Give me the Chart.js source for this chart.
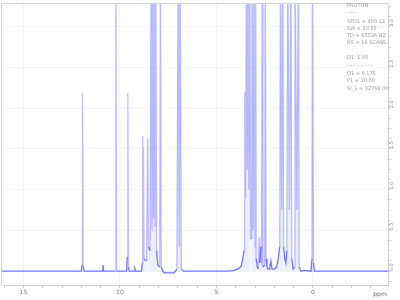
<!DOCTYPE html>
<html>
<head>
<meta charset="utf-8">
<script src="https://cdn.jsdelivr.net/npm/chart.js@4.4.1/dist/chart.umd.min.js"></script>
<style>
    html, body { margin: 0; padding: 0; background: #fff; }
    #box { width: 400px; height: 300px; }
</style>
</head>
<body>
<div id="box"><canvas id="spectre" width="400" height="300"></canvas></div>
<script>
// spectre : déplacement chimique (ppm) et intensité
const shiftPpm = [
    16.1, 12.00, 11.96, 11.94, 11.90, 11.86, 10.92, 10.88, 10.84, 10.25, 10.21, 10.17,
    9.66, 9.62, 9.59, 9.56, 9.52, 9.25, 9.22, 9.18, 8.88, 8.84, 8.82, 8.80, 8.78, 8.75,
    8.62, 8.56, 8.52, 8.44, 8.38, 8.34, 8.30, 8.26, 8.22, 8.18, 8.14, 8.10, 8.04, 7.94,
    7.90, 7.86, 7.78, 7.70, 7.20, 7.05, 6.98, 6.93, 6.88, 6.82, 6.70,
    4.40, 4.10, 3.85, 3.72, 3.64, 3.57, 3.53, 3.49, 3.44, 3.40, 3.36, 3.32, 3.27, 3.23,
    3.17, 3.15, 3.10, 3.05, 3.00, 2.97, 2.94, 2.88, 2.83, 2.79, 2.75, 2.70, 2.66, 2.63,
    2.59, 2.50, 2.47, 2.43, 2.38, 2.33, 2.25, 2.18, 2.12, 2.00, 1.88, 1.80, 1.72, 1.68,
    1.62, 1.56, 1.52, 1.46, 1.40, 1.35, 1.31, 1.22, 1.14, 1.10, 1.02, 0.96, 0.93, 0.83,
    0.75, 0.71, 0.62, 0.45, 0.10, 0.05, 0.02, -0.03, -0.08, -3.9
];
const intensite = [
    0, 0, 0.15, 4.37, 0.12, 0, 0, 0.15, 0, 0, 8, 0,
    0, 0.35, 4.37, 0.1, 0, 0, 0.06, 0, 0, 0.2, 3.32, 0.5, 3.05, 0.3,
    0.25, 3.27, 0.6, 0.5, 8, 1.0, 8, 1.3, 8, 1.1, 8, 0.5, 0.15, 0.1,
    8, 0.1, 0, -0.04, -0.04, 0.05, 8, 0.6, 8, 0.05, 0,
    0, 0.02, 0.06, 0.12, 0.3, 0.5, 4.4, 1.8, 8, 2.5, 8, 2.0, 8, 0.8,
    0.8, 8, 1.0, 8, 0.6, 8, 0.3, 0.1, 0.05, 0.83, 0.2, 0.6, 0.15, 8,
    0.1, 0.15, 8, 0.3, 0.1, 0.05, 0.05, 0.25, 0.05, 0.05, 0.1, 0.3, 0.6, 8,
    1.5, 8, 0.6, 0.3, 0.2, 0.5, 8, 1.5, 8, 0.3, 0.05, 0.1, 8, 1.5,
    8, 0.1, 0, 0.02, 0, 0.3, 8, 0.2, 0, 0
];

// axes
const xMajorTicks = [15, 10, 5, 0];
const yMajorTicks = [0, 1, 2, 3, 4, 5, 6];
const yTickLabels = ["0.0", "0.5", "1.0", "1.5", "2.0", "2.5", "3.0"];

// paramètres d'acquisition (encadré en haut à droite)
const parametres = [
    "PROTON", "------", "SFO1 = 400.13", "SW = 20.55", "TD = 65536 HZ", "NS = 16 SCANS",
    "", "D1  1.00", "--------------", "O1 = 6.175", "P1 = 10.00", "SI_1 = 32768.00"
];

const points = shiftPpm.map(function(x, i) {
    return { x: x, y: intensite[i] };
});

const cadre = {
    id: "cadre",
    afterDraw(chart) {
        const ctx = chart.ctx;
        const a = chart.chartArea;
        ctx.save();
        ctx.strokeStyle = "#d4d4d4";
        ctx.lineWidth = 1;
        ctx.beginPath();
        ctx.moveTo(a.left - 0.5, a.bottom);
        ctx.lineTo(a.left - 0.5, a.top - 0.5);
        ctx.lineTo(a.right, a.top - 0.5);
        ctx.stroke();

        ctx.fillStyle = "#9a9a9a";
        ctx.font = "5px 'DejaVu Sans'";
        ctx.textBaseline = "middle";
        const lignesY = [6, 13, 22, 29, 36, 43, 50, 58, 66, 74, 81, 89];
        parametres.forEach(function(txt, i) {
            ctx.fillText(txt, 347, lignesY[i]);
        });

        ctx.fillStyle = "#666";
        ctx.font = "6px 'DejaVu Sans'";
        ctx.textAlign = "center";
        ctx.fillText("ppm", 380, 294);
        ctx.restore();
    }
};

// les montées de pics sont plus pâles que la ligne de base
function couleurSegment(c) {
    const dy = Math.abs(c.p1.parsed.y - c.p0.parsed.y);
    return dy > 0.4 ? "rgba(100, 100, 255, 0.42)" : "rgba(70, 70, 255, 0.75)";
}

new Chart(document.getElementById("spectre"), {
    type: "line",
    data: {
        datasets: [{
            label: "1H",
            data: points,
            borderColor: "rgba(80, 80, 255, 0.6)",
            backgroundColor: "rgba(120, 120, 255, 0.13)",
            borderWidth: 1.3,
            fill: "origin",
            pointRadius: 0,
            tension: 0,
            segment: { borderColor: couleurSegment }
        }]
    },
    options: {
        responsive: false,
        animation: false,
        layout: { padding: { top: 2, left: 2, right: 0, bottom: 0 } },
        plugins: {
            legend: { display: false },
            tooltip: { enabled: false }
        },
        scales: {
            x: {
                type: "linear",
                reverse: true,
                min: -3.89,
                max: 16.11,
                afterBuildTicks: function(scale) {
                    const t = [];
                    for (let v = -3; v <= 16; v++) t.push({ value: v });
                    scale.ticks = t;
                },
                afterFit: function(scale) { scale.height = 15; },
                ticks: {
                    autoSkip: false,
                    maxRotation: 0,
                    padding: 1,
                    color: "#777",
                    font: { size: 6, family: "DejaVu Sans" },
                    callback: function(v) {
                        return xMajorTicks.includes(v) ? String(v) : "";
                    }
                },
                grid: {
                    tickLength: 3,
                    color: function(c) {
                        return c.tick && xMajorTicks.includes(c.tick.value) ? "rgba(0,0,0,0.04)" : "rgba(0,0,0,0)";
                    },
                    tickColor: "#cfcfcf"
                },
                border: { color: "#cfcfcf" }
            },
            y: {
                type: "linear",
                position: "right",
                min: -0.34,
                max: 6.56,
                afterBuildTicks: function(scale) {
                    const t = [];
                    for (let v = -0.25; v <= 6.5; v += 0.25) t.push({ value: Math.round(v * 100) / 100 });
                    scale.ticks = t;
                },
                afterFit: function(scale) { scale.width = 12; },
                ticks: {
                    autoSkip: false,
                    minRotation: 90,
                    maxRotation: 90,
                    padding: 1,
                    color: "#888",
                    font: { size: 5, family: "DejaVu Sans" },
                    callback: function(v) {
                        const i = yMajorTicks.indexOf(v);
                        return i >= 0 ? yTickLabels[i] : "";
                    }
                },
                grid: {
                    tickLength: 3,
                    color: function(c) {
                        return c.tick && yMajorTicks.includes(c.tick.value) ? "rgba(0,0,0,0.04)" : "rgba(0,0,0,0)";
                    },
                    tickColor: "#d4d4d4"
                },
                border: { color: "#cfcfcf" }
            }
        }
    },
    plugins: [cadre]
});
</script>
</body>
</html>
